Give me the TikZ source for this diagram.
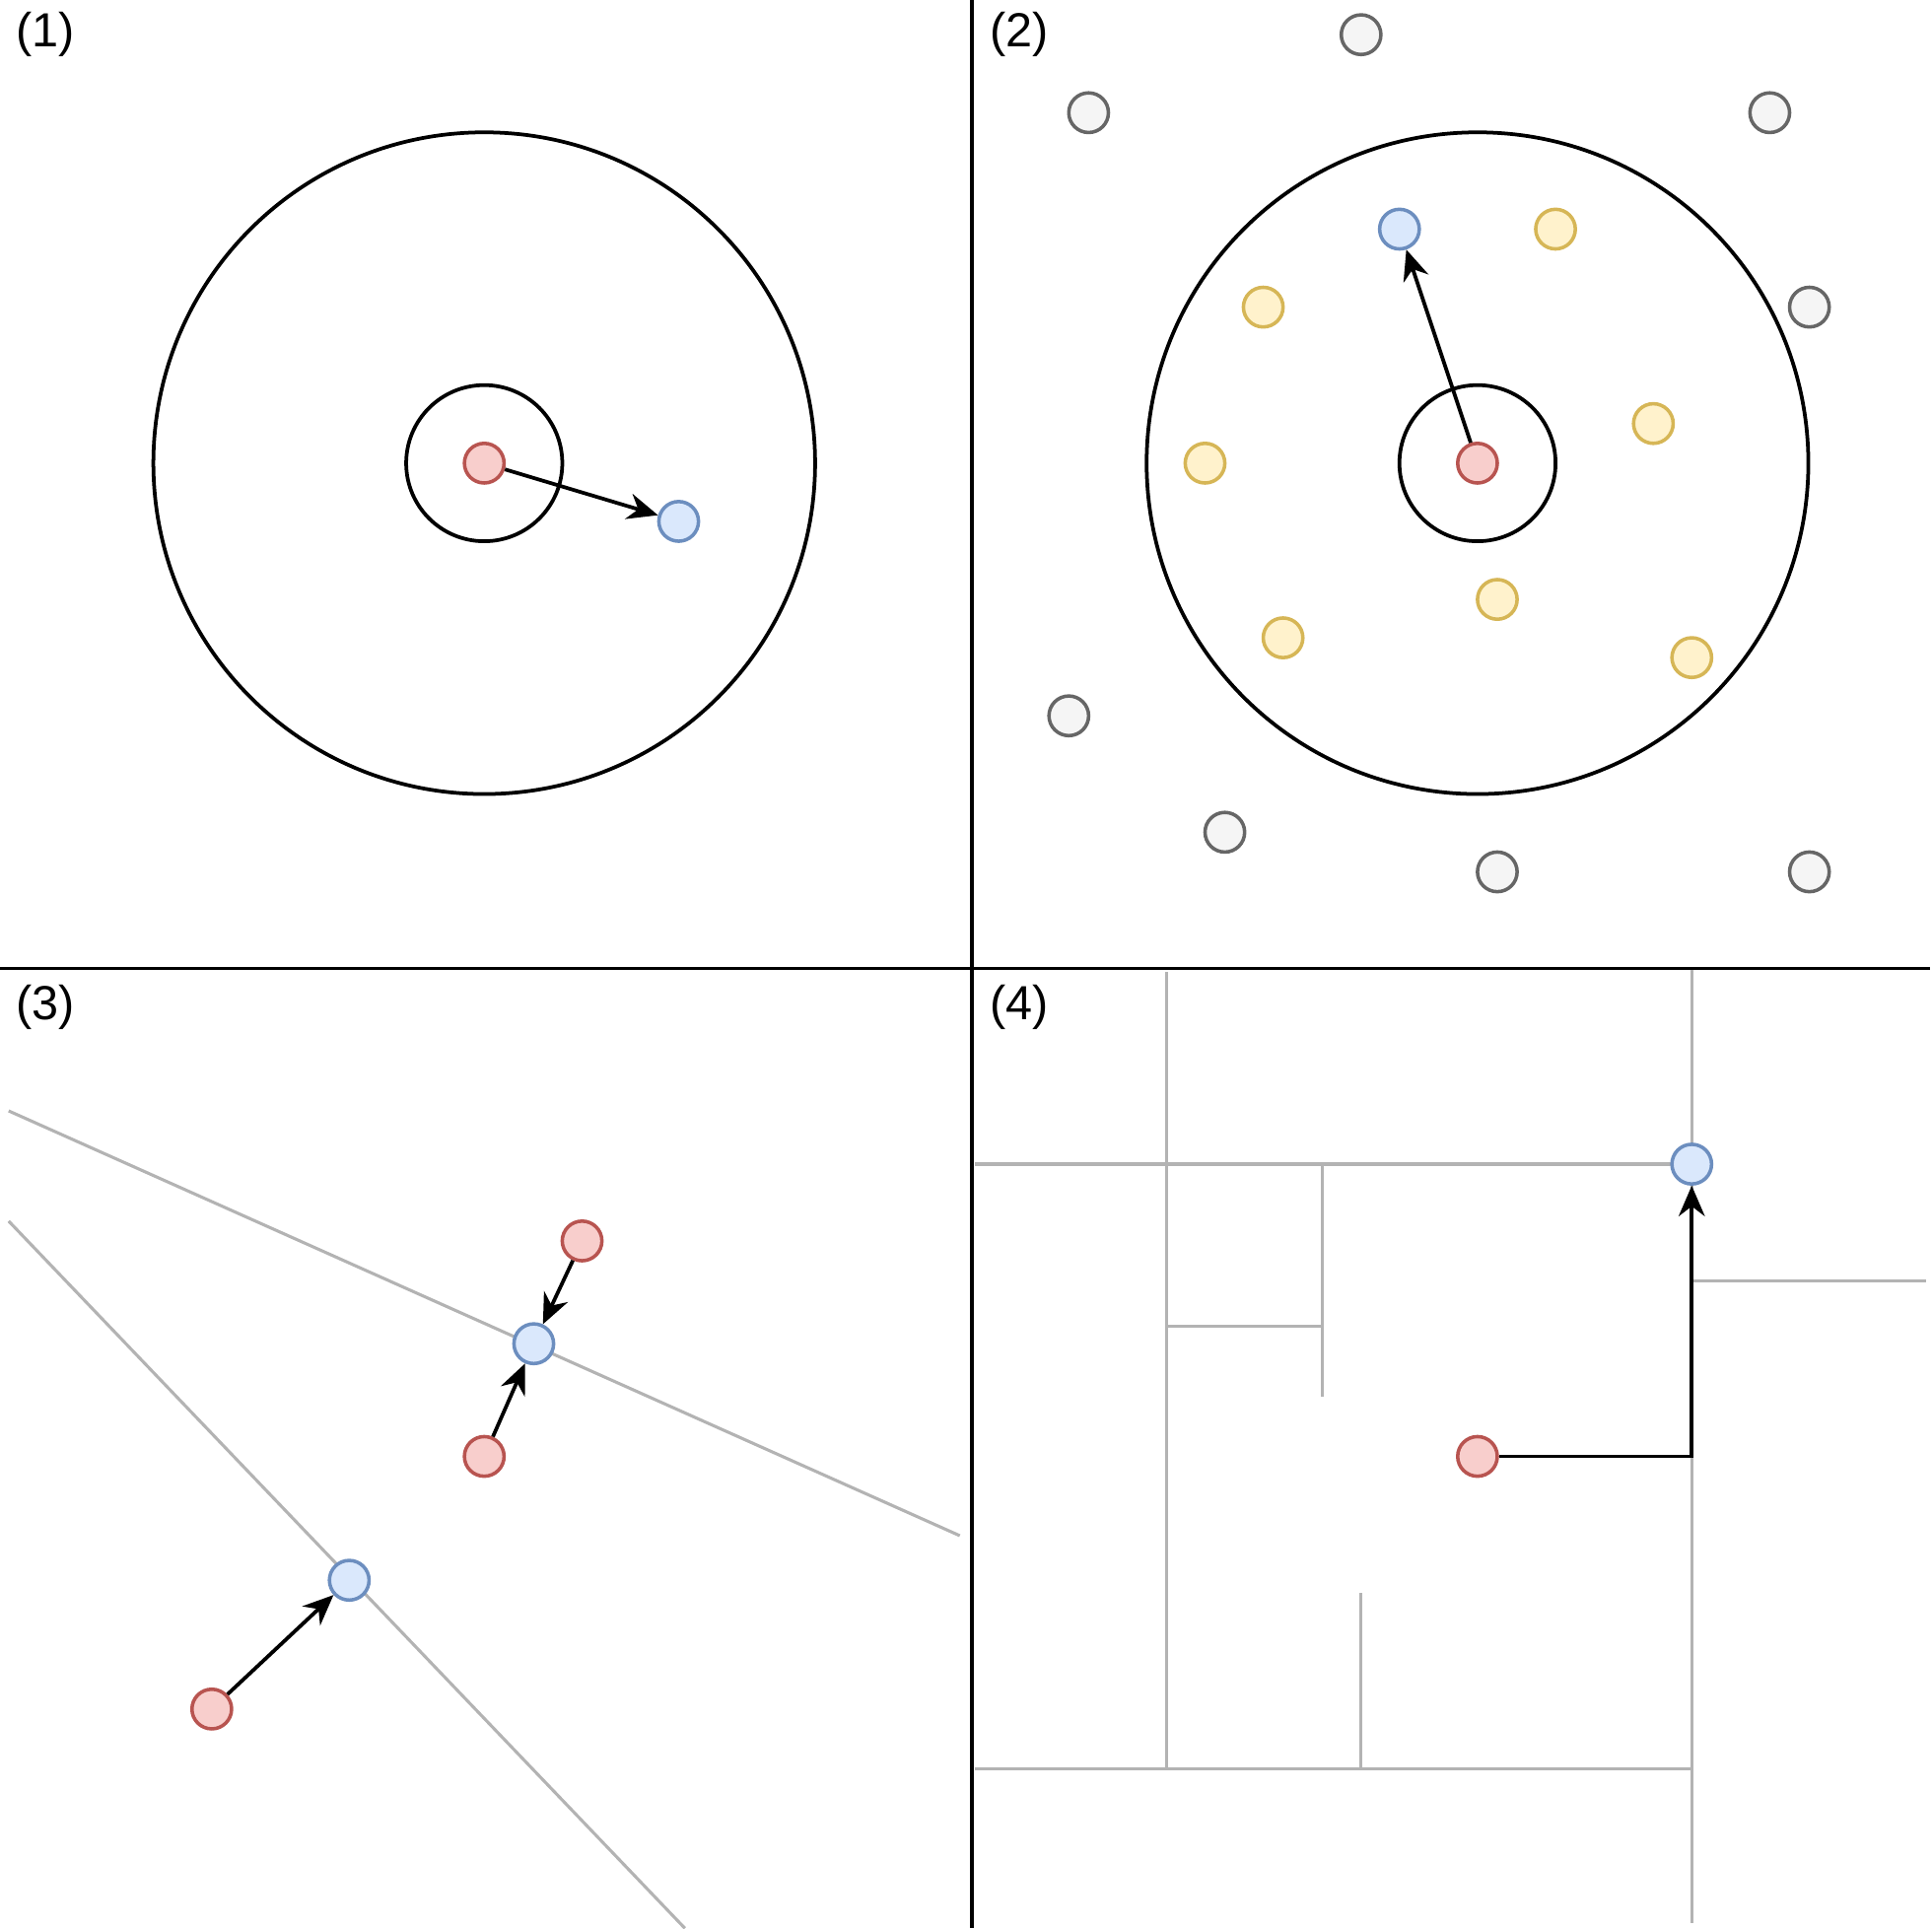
\documentclass[tikz,border=0pt]{standalone}
\usepackage{fontspec}
\setmainfont{Liberation Sans}
\usetikzlibrary{arrows.meta}
\definecolor{rf}{HTML}{F8CECC}\definecolor{rs}{HTML}{B85450}
\definecolor{bf}{HTML}{DAE8FC}\definecolor{bs}{HTML}{6C8EBF}
\definecolor{yf}{HTML}{FFF2CC}\definecolor{ys}{HTML}{D6B656}
\definecolor{gf}{HTML}{F5F5F5}\definecolor{gs}{HTML}{666666}
\definecolor{ln}{HTML}{B3B3B3}
\begin{document}
\begin{tikzpicture}[x=0.01cm,y=-0.01cm,
  pt/.style={circle,minimum size=0.32cm,inner sep=0pt,line width=0.8pt},
  red/.style={pt,draw=rs,fill=rf},
  blu/.style={pt,draw=bs,fill=bf},
  yel/.style={pt,draw=ys,fill=yf},
  gry/.style={pt,draw=gs,fill=gf},
  blk/.style={line width=0.85pt,black},
  gl/.style={line width=0.7pt,ln},
  arr/.style={blk,-{Stealth[length=7pt,width=6pt]}},
  lab/.style={font=\fontsize{11}{13}\selectfont,inner sep=0pt}]
\useasboundingbox (0,0) rectangle (1560,1557);
% labels
\node[lab] (l1) at (37,28) {(1)};
\node[lab] (l2) at (823,28) {(2)};
\node[lab] (l3) at (37,813) {(3)};
\node[lab] (l4) at (823,813) {(4)};
% dividers
\draw[blk] (785,0) -- (785,1557);
\draw[blk] (0,782) -- (1558,782);
% panel 1
\draw[blk] (391,374) circle (2.67cm);
\draw[blk] (391,374) circle (0.63cm);
\node[red] (r1) at (391,374) {};
\node[blu] (b1) at (548,421) {};
\draw[arr] (r1) -- (b1);
% panel 2
\draw[blk] (1193,374) circle (2.67cm);
\draw[blk] (1193,374) circle (0.63cm);
\foreach \p [count=\i] in {(1256,185),(1020,248),(1335,342),(973,374),(1209,484),(1036,515),(1366,531)}
  \node[yel] (y\i) at \p {};
\foreach \p [count=\i] in {(1099,28),(879,91),(1429,91),(1461,248),(863,578),(989,672),(1209,704),(1461,704)}
  \node[gry] (g\i) at \p {};
\node[red] (r2) at (1193,374) {};
\node[blu] (b2) at (1130,185) {};
\draw[arr] (r2) -- (b2);
% panel 3
\draw[gl] (7,897) -- (775,1240);
\draw[gl] (7,986) -- (553,1557);
\node[red] (r3a) at (470,1002) {};
\node[blu] (b3a) at (431,1085) {};
\node[red] (r3b) at (391,1176) {};
\node[blu] (b3b) at (282,1276) {};
\node[red] (r3c) at (171,1380) {};
\draw[arr] (r3a) -- (b3a);
\draw[arr] (r3b) -- (b3a);
\draw[arr] (r3c) -- (b3b);
% panel 4
\draw[gl] (942,785) -- (942,1428);
\draw[gl] (787,940) -- (1350,940);
\draw[gl] (1366,783) -- (1366,924);
\draw[gl] (1366,956) -- (1366,1553);
\draw[gl] (1068,940) -- (1068,1128);
\draw[gl] (942,1071) -- (1068,1071);
\draw[gl] (1366,1034) -- (1555,1034);
\draw[gl] (787,1428) -- (1366,1428);
\draw[gl] (1099,1286) -- (1099,1428);
\node[blu] (b4) at (1366,940) {};
\node[red] (r4) at (1193,1176) {};
\coordinate (c4) at (1366,1176);
\draw[arr] (r4) -- (c4) -- (b4);
\end{tikzpicture}
\end{document}
